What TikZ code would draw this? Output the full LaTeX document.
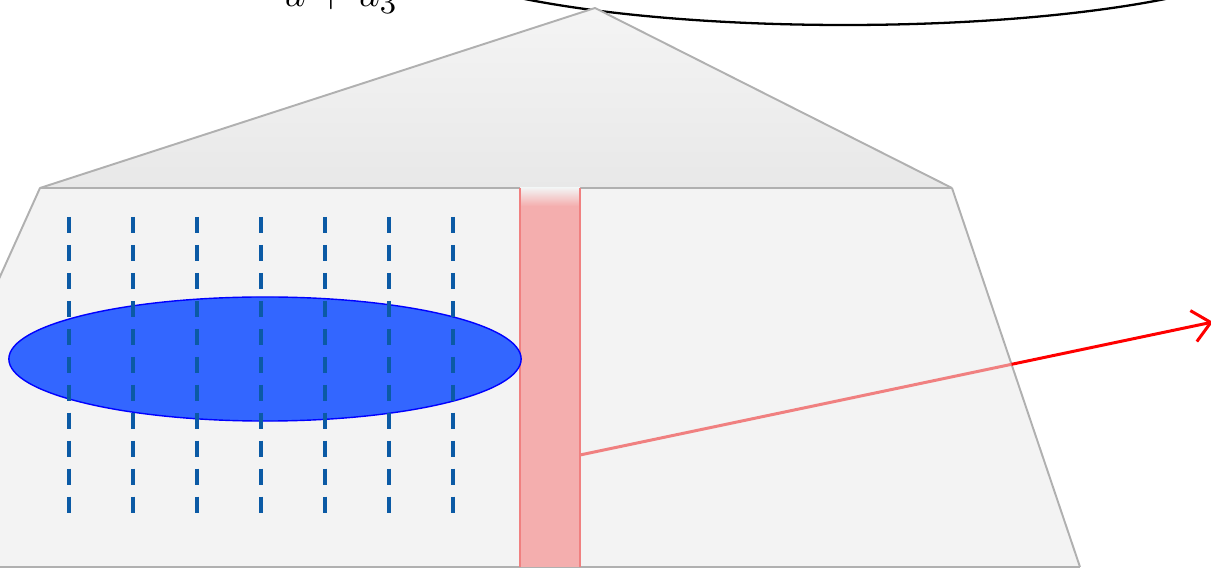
\documentclass[tikz,border=0pt]{standalone}
\usetikzlibrary{math,arrows.meta,calc,intersections,shapes.geometric}

\begin{document}
\begin{tikzpicture}[x=0.01cm, y=-0.01cm]

	\tikzmath{
		\yh = 188;   % arête haute du tronc
		\yb = 567;   % arête basse
		\dx = 64;    % pas des lignes pointillées
	}

	\useasboundingbox (0,0) rectangle (1211,570);

	\definecolor{bordgris}{HTML}{B0B0B0}
	\definecolor{fondgris}{HTML}{F3F3F3}
	\definecolor{bleuplein}{HTML}{3366FF}
	\definecolor{bleutrait}{HTML}{0B5AA5}
	\definecolor{rosebande}{HTML}{F4AEAE}
	\definecolor{rosebord}{HTML}{F08080}

	\tikzset{
		bord/.style={draw=bordgris, line width=0.55pt, line join=round},
		pointille/.style={bleutrait, line width=1.1pt, dash pattern=on 4.55pt off 3.4pt},
		rayon/.style={line width=0.85pt}
	}

	% bout d'ellipse et texte coupés en haut
	\draw[line width=0.65pt] (845,-60) ellipse [x radius=445, y radius=85];
	\node[anchor=base, font=\fontsize{13}{15}\selectfont, inner sep=0pt] (expr) at (340,7) {$u + u_3$};

	% toit
	\coordinate (sommet) at (595,8);
	\coordinate (hg) at (40,\yh);
	\coordinate (hd) at (952,\yh);
	\shade[top color=fondgris!90!white, bottom color=black!9] (sommet) -- (hd) -- (hg) -- cycle;
	\draw[bord] (hg) -- (sommet) -- (hd);

	% tronc
	\coordinate (bg) at (-131,\yb);
	\coordinate (bd) at (1080,\yb);
	\fill[fondgris] (hg) -- (hd) -- (bd) -- (bg) -- cycle;
	\draw[bord] (bg) -- (hg) -- (hd);
	\draw[bord, name path=cote] (hd) -- (bd);
	\draw[bord] (bd) -- (bg);

	% bande rose
	\fill[rosebande] (520,\yh) rectangle (580,\yb);
	\shade[top color=fondgris, bottom color=rosebande] (520,\yh) rectangle (580,\yh+18);
	\draw[rosebord, line width=0.5pt] (520,\yh) -- (520,\yb) (580,\yh) -- (580,\yb);

	% ellipse bleue
	\node[ellipse, draw=blue, fill=bleuplein, line width=0.4pt,
		minimum width=5.12cm, minimum height=1.24cm, inner sep=0pt] (tache) at (265,359) {};

	\foreach \i in {0,...,6}{
			\draw[pointille] ({69+\i*\dx},217) -- ({69+\i*\dx},513);
		}

	% rayon
	\coordinate (depart) at (580,455);
	\coordinate (fin) at (1213,322);
	\path[name path=trajet] (depart) -- (fin);
	\path[name intersections={of=cote and trajet, by=sortie}];
	\draw[rayon, rosebord] (depart) -- (sortie);
	\draw[rayon, red, -{Straight Barb[length=5pt, width=9pt]}] (sortie) -- (fin);

\end{tikzpicture}
\end{document}
